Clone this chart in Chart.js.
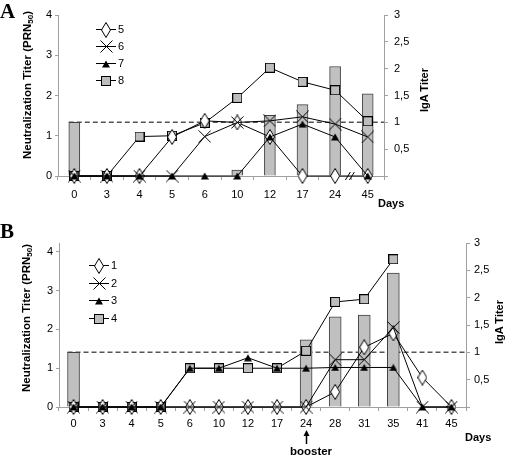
<!DOCTYPE html>
<html>
<head>
<meta charset="utf-8">
<script src="https://cdn.jsdelivr.net/npm/chart.js@4.4.1/dist/chart.umd.min.js"></script>
<style>
  body { margin: 0; background: #fff; font-family: "Liberation Sans", Arial, sans-serif; }
  #wrap { position: relative; width: 512px; height: 460px; overflow: hidden; }
  canvas { position: absolute; left: 0; }
  .lbl { position: absolute; font-weight: bold; font-size: 11px; color: #000; white-space: nowrap; line-height: 1; }
  .rot { transform: translate(-50%, -50%) rotate(-90deg); }
  .lbl sub { font-size: 8px; vertical-align: -2px; line-height: 0; }
  .panel { position: absolute; font-family: "Liberation Serif", "Times New Roman", serif; font-weight: bold; font-size: 21px; line-height: 1; }
</style>
</head>
<body>
<div id="wrap">
  <canvas id="chartA" width="512" height="215" style="top:0"></canvas>
  <canvas id="chartB" width="512" height="230" style="top:230px"></canvas>

  <div class="panel" style="left:0;top:1px">A</div>
  <div class="panel" style="left:0;top:221px">B</div>

  <div class="lbl rot" style="left:28px;top:85px;font-size:11.5px">Neutralization Titer (PRN<sub>50</sub>)</div>
  <div class="lbl rot" style="left:424px;top:90px">IgA Titer</div>
  <div class="lbl" style="left:378px;top:198px">Days</div>

  <div class="lbl rot" style="left:27px;top:318px;font-size:11.5px">Neutralization Titer (PRN<sub>50</sub>)</div>
  <div class="lbl rot" style="left:499px;top:322px">IgA Titer</div>
  <div class="lbl" style="left:465px;top:432px">Days</div>
  <div class="lbl" style="left:311px;top:446px;font-size:11.5px;transform:translateX(-50%)">booster</div>
</div>

<script>
// --- Panel A data ---
const daysA = ['0', '3', '4', '5', '6', '10', '12', '17', '24', '45'];
const igaA = [1.0, null, null, null, null, 0.11, 1.13, 1.33, 2.04, 1.53];
const a5 = [0, 0, 0, 0.97, 1.37, 1.33, 0.97, 0, 0, 0];
const a6 = [0, 0, 0, 0, 0.98, 1.33, 1.37, 1.47, 1.29, 0.97];
const a7 = [0, 0, 0, 0, 0, 0, 0.97, 1.29, 0.97, 0];
const a8 = [0, 0, 0.98, 1.0, 1.32, 1.94, 2.69, 2.34, 2.13, 1.36];

// --- Panel B data ---
const daysB = ['0', '3', '4', '5', '6', '10', '12', '17', '24', '28', '31', '35', '41', '45'];
const igaB = [1.0, null, null, null, null, null, null, null, 1.23, 1.65, 1.68, 2.45, null, null];
const b1 = [0, 0, 0, 0, 0, 0, 0, 0, 0, 0.39, 1.54, 1.9, 0.76, 0];
const b2 = [0, 0, 0, 0, 0, 0, 0, 0, 0, 1.22, 1.22, 2.05, 0, 0];
const b3 = [0, 0, 0, 0, 1.0, 1.0, 1.27, 1.0, 1.0, 1.02, 1.02, 1.02, 0, 0];
const b4 = [0, 0, 0, 0, 1.0, 1.0, 1.0, 1.0, 1.45, 2.71, 2.78, 3.81, null, null];

// Tick labels of the two value axes
const prnTicks = [0, 1, 2, 3, 4];
const igaTicks = [0, 0.5, 1, 1.5, 2, 2.5, 3];

// IgA protection threshold (dashed line) and booster day
const igaThreshold = 1;
const boosterDay = '24';

Chart.defaults.font.family = '"Liberation Sans", Arial, sans-serif';
Chart.defaults.font.size = 11;
Chart.defaults.color = '#000';

// 1. Marker images
function marker(kind) {
    const c = document.createElement('canvas');
    const g = c.getContext('2d');
    g.lineWidth = 1;
    g.strokeStyle = '#000';
    if (kind === 'diamond') {
        c.width = 10; c.height = 16;
        g.beginPath();
        g.moveTo(5, 0.5); g.lineTo(9.5, 8); g.lineTo(5, 15.5); g.lineTo(0.5, 8); g.closePath();
        g.fillStyle = '#fff'; g.fill(); g.stroke();
    } else if (kind === 'cross') {
        c.width = 13; c.height = 13;
        g.beginPath();
        g.moveTo(0.5, 0.5); g.lineTo(12.5, 12.5);
        g.moveTo(12.5, 0.5); g.lineTo(0.5, 12.5);
        g.stroke();
    } else if (kind === 'triangle') {
        c.width = 8; c.height = 8;
        g.beginPath();
        g.moveTo(4, 0.5); g.lineTo(8, 7.5); g.lineTo(0, 7.5); g.closePath();
        g.fillStyle = '#000'; g.fill();
    } else {
        c.width = 10; c.height = 10;
        g.fillStyle = '#bdbdbd';
        g.fillRect(0.5, 0.5, 9, 9);
        g.strokeRect(0.5, 0.5, 9, 9);
    }
    return c;
}
const mk = {
    diamond: marker('diamond'),
    cross: marker('cross'),
    triangle: marker('triangle'),
    square: marker('square')
};

// 2. Plugins: inner legend, dashed threshold, axis break, booster arrow
const innerLegend = {
    id: 'innerLegend',
    afterDraw(chart, args, opts) {
        const { ctx, chartArea } = chart;
        const lines = chart.data.datasets.filter(d => d.type === 'line');
        const x0 = chartArea.left + opts.dx;
        ctx.save();
        ctx.font = '11px "Liberation Sans", Arial, sans-serif';
        ctx.textBaseline = 'middle';
        ctx.fillStyle = '#000';
        lines.forEach((d, i) => {
            const y = Math.round(chartArea.top + opts.dy + i * opts.step) + 0.5;
            ctx.strokeStyle = '#000';
            ctx.lineWidth = 1;
            ctx.beginPath();
            ctx.moveTo(x0, y); ctx.lineTo(x0 + 20, y);
            ctx.stroke();
            const img = d.pointStyle;
            ctx.drawImage(img, Math.round(x0 + 10 - img.width / 2), Math.round(y - img.height / 2));
            ctx.fillText(d.label, x0 + 22, y);
        });
        ctx.restore();
    }
};

const threshold = {
    id: 'threshold',
    beforeDatasetsDraw(chart, args, opts) {
        const { ctx, chartArea, scales } = chart;
        const y = scales.y2.getPixelForValue(opts.value);
        const xStart = scales.x.getPixelForValue(0) - opts.barW / 2;
        ctx.save();
        ctx.strokeStyle = '#555';
        ctx.lineWidth = 1.5;
        ctx.setLineDash([5, 3]);
        ctx.beginPath();
        ctx.moveTo(xStart, y); ctx.lineTo(chartArea.right, y);
        ctx.stroke();
        ctx.restore();
    }
};

const extras = {
    id: 'extras',
    afterDraw(chart, args, opts) {
        const { ctx, chartArea, scales } = chart;
        ctx.save();
        ctx.strokeStyle = '#000';
        ctx.fillStyle = '#000';
        ctx.lineWidth = 1;
        if (opts.breakAfter != null) {
            const i = opts.breakAfter;
            const x = (scales.x.getPixelForValue(i) + scales.x.getPixelForValue(i + 1)) / 2;
            const y = chartArea.bottom;
            ctx.beginPath();
            ctx.moveTo(x - 6, y + 4); ctx.lineTo(x - 1, y - 4);
            ctx.moveTo(x - 2, y + 4); ctx.lineTo(x + 3, y - 4);
            ctx.stroke();
        }
        if (opts.arrowAt != null) {
            const x = Math.round(scales.x.getPixelForValue(opts.arrowAt)) + 0.5;
            const top = chartArea.bottom + 23;
            ctx.lineWidth = 1.5;
            ctx.beginPath();
            ctx.moveTo(x, top + 4); ctx.lineTo(x, top + 14);
            ctx.stroke();
            ctx.beginPath();
            ctx.moveTo(x, top); ctx.lineTo(x + 3, top + 6); ctx.lineTo(x - 3, top + 6); ctx.closePath();
            ctx.fill();
        }
        ctx.restore();
    }
};

// 3. Builds one panel
function buildPanel(canvasId, days, iga, series, geo) {
    const datasets = [{
        type: 'bar',
        label: 'IgA',
        data: iga,
        yAxisID: 'y2',
        backgroundColor: '#c0c0c0',
        borderColor: '#404040',
        borderWidth: 1,
        barThickness: geo.barW,
        order: 10
    }];
    series.forEach(s => {
        datasets.push({
            type: 'line',
            label: s.name,
            data: s.values,
            yAxisID: 'y',
            borderColor: '#000',
            borderWidth: 1,
            pointStyle: mk[s.marker],
            pointRadius: 6,
            pointHoverRadius: 6,
            tension: 0,
            fill: false,
            clip: false,
            order: s.order
        });
    });

    const axisGrey = '#a0a0a0';
    new Chart(document.getElementById(canvasId), {
        type: 'bar',
        data: { labels: days, datasets: datasets },
        options: {
            responsive: false,
            animation: false,
            layout: { padding: { top: geo.top, left: 0, right: 0, bottom: 0 } },
            plugins: {
                legend: { display: false },
                tooltip: { enabled: false },
                innerLegend: { dx: geo.legX, dy: geo.legY, step: geo.legStep },
                threshold: { value: igaThreshold, barW: geo.barW },
                extras: { breakAfter: geo.breakAfter, arrowAt: geo.arrowAt }
            },
            scales: {
                x: {
                    offset: true,
                    grid: { display: true, drawOnChartArea: false, offset: true, tickLength: 4, color: axisGrey },
                    border: { color: axisGrey },
                    ticks: { padding: geo.xPad, maxRotation: 0, autoSkip: false },
                    afterFit(s) { s.height = geo.xH; }
                },
                y: {
                    position: 'left',
                    min: 0,
                    max: geo.yMax,
                    ticks: { padding: 3 },
                    afterBuildTicks(s) { s.ticks = prnTicks.map(v => ({ value: v })); },
                    grid: { drawOnChartArea: false, tickLength: 3, color: axisGrey },
                    border: { color: axisGrey },
                    afterFit(s) { s.width = geo.yW; }
                },
                y2: {
                    position: 'right',
                    min: 0,
                    max: 3,
                    ticks: {
                        padding: geo.y2Pad,
                        callback: v => (v === 0 ? '' : String(v).replace('.', ','))
                    },
                    afterBuildTicks(s) { s.ticks = igaTicks.map(v => ({ value: v })); },
                    grid: { drawOnChartArea: false, tickLength: 4, color: axisGrey },
                    border: { color: axisGrey },
                    afterFit(s) { s.width = geo.y2W; }
                }
            }
        },
        plugins: [threshold, innerLegend, extras]
    });
}

document.addEventListener('DOMContentLoaded', () => {
    // Panel A
    buildPanel('chartA', daysA, igaA, [
        { name: '5', values: a5, marker: 'diamond', order: 3 },
        { name: '6', values: a6, marker: 'cross', order: 2 },
        { name: '7', values: a7, marker: 'triangle', order: 1 },
        { name: '8', values: a8, marker: 'square', order: 4 }
    ], {
        top: 15, yW: 58, y2W: 128, xH: 39, yMax: 4,
        barW: 11, xPad: 8, y2Pad: 6,
        legX: 38, legY: 14, legStep: 17,
        breakAfter: daysA.indexOf('24'), arrowAt: null
    });

    // Panel B
    buildPanel('chartB', daysB, igaB, [
        { name: '1', values: b1, marker: 'diamond', order: 3 },
        { name: '2', values: b2, marker: 'cross', order: 2 },
        { name: '3', values: b3, marker: 'triangle', order: 1 },
        { name: '4', values: b4, marker: 'square', order: 4 }
    ], {
        top: 13, yW: 59, y2W: 46, xH: 53, yMax: 4.23,
        barW: 12, xPad: 6, y2Pad: 4,
        legX: 30, legY: 22, legStep: 17.6,
        breakAfter: null, arrowAt: daysB.indexOf(boosterDay)
    });
});
</script>
</body>
</html>
